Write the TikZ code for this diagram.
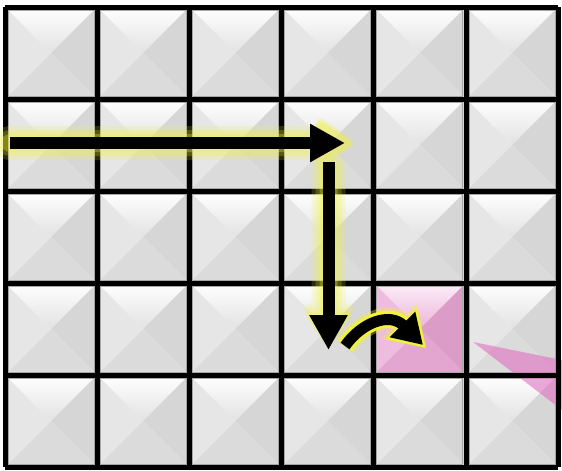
\documentclass[tikz,border=0pt]{standalone}
\usetikzlibrary{arrows.meta}
\definecolor{gsup}{HTML}{FFFFFF}
\definecolor{gmed}{HTML}{E2E2E2}
\definecolor{gizq}{HTML}{E6E6E6}
\definecolor{gder}{HTML}{D6D6D6}
\definecolor{ginf}{HTML}{DBDBDB}
\definecolor{psup}{HTML}{FDEEF8}
\definecolor{pmed}{HTML}{EBB4DA}
\definecolor{pizq}{HTML}{EEBCDE}
\definecolor{pder}{HTML}{DC9CC8}
\definecolor{pinf}{HTML}{E2A6D0}
\definecolor{brillo}{HTML}{F2F23A}
\definecolor{rosa}{HTML}{E070C0}
\newcommand{\baldosa}[3]{%
  \begin{scope}[shift={(#1,#2)}]
    \shade[top color=#3sup, bottom color=#3med] (0,0) -- (92,0) -- (46,46) -- cycle;
    \fill[#3izq] (0,0) -- (46,46) -- (0,92) -- cycle;
    \fill[#3der] (92,0) -- (92,92) -- (46,46) -- cycle;
    \fill[#3inf] (0,92) -- (46,46) -- (92,92) -- cycle;
    \draw[black!35, line width=1] (3,3) rectangle (89,89);
  \end{scope}}
\begin{document}
\begin{tikzpicture}[x=1pt,y=-1pt,
    rejilla/.style={line width=5, black},
    flecha/.style={black, line width=12, -{Triangle[length=35pt,width=36pt]}}]
\useasboundingbox (0,0) rectangle (562,471);
\fill[white] (0,0) rectangle (562,471);
% Baldosas
\foreach \i in {0,...,5}
  \foreach \j in {0,...,4}
    \baldosa{5+92.2*\i}{7+92*\j}{g};
% Baldosa destino
\baldosa{5+92.2*4}{7+92*3}{p};
% Haz rosa
\fill[rosa, opacity=.6] (473,342) -- (562,360) -- (562,410) -- cycle;
% Rejilla
\foreach \i in {0,...,6}
  \draw[rejilla] (5+92.2*\i,7) -- (5+92.2*\i,467);
\foreach \j in {0,...,5}
  \draw[rejilla] (5,7+92*\j) -- (558.2,7+92*\j);
% Puntos del recorrido
\coordinate (inicio) at (10,143);
\coordinate (esquina) at (345,143);
\coordinate (bajada) at (328.5,162);
\coordinate (fondo) at (328.5,350);
\coordinate (giro) at (345,346);
\coordinate (meta) at (423,345);
% Halo amarillo
\foreach \w/\o in {34/.18,26/.22,18/.3}{
  \begin{scope}[transparency group, opacity=\o]
    \draw[brillo, line cap=round, line join=round, line width=\w,
      -{Triangle[round, length=32pt+0.3*\w pt,width=36pt+0.6*\w pt]}]
      (inicio) -- ([xshift=0.25*\w]esquina);
    \draw[brillo, line cap=round, line join=round, line width=\w,
      -{Triangle[round, length=32pt+0.3*\w pt,width=36pt+0.6*\w pt]}]
      ([yshift=-6]bajada) -- ([yshift=0.25*\w]fondo);
  \end{scope}
}
% Flechas rectas
\draw[flecha] (inicio) -- (esquina);
\draw[flecha] (bajada) -- (fondo);
% Flecha curva
\begin{scope}[transparency group, opacity=.35]
  \draw[brillo, line width=22, -{Triangle[length=40pt,width=48pt]}]
    (giro) .. controls (362,322) and (390,312) .. ([shift={(4,4)}]meta);
\end{scope}
\draw[brillo, line width=17, -{Triangle[length=35pt,width=42pt]}]
  (giro) .. controls (362,322) and (390,312) .. ([shift={(3,3)}]meta);
\draw[black, line width=11, -{Triangle[length=29pt,width=34pt]}]
  (giro) .. controls (362,322) and (390,312) .. (meta);
\end{tikzpicture}
\end{document}
